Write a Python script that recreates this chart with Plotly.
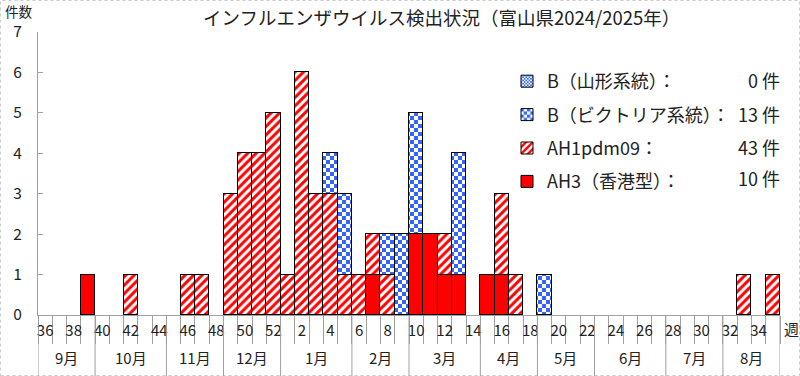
import plotly.graph_objects as go

# ---- data ----
weeks = [str(w) for w in list(range(36, 53)) + list(range(1, 36))]
# AH3 (香港型)
ah3 = [0, 0, 0, 1, 0, 0, 0, 0, 0, 0, 0, 0, 0, 0, 0, 0, 0,
       0, 0, 0, 0, 0, 0, 1, 0, 0, 2, 2, 1, 1, 0, 1, 1, 0, 0,
       0, 0, 0, 0, 0, 0, 0, 0, 0, 0, 0, 0, 0, 0, 0, 0, 0]
# AH1pdm09
ah1 = [0, 0, 0, 0, 0, 0, 1, 0, 0, 0, 1, 1, 0, 3, 4, 4, 5,
       1, 6, 3, 3, 1, 1, 1, 1, 0, 0, 0, 1, 0, 0, 0, 2, 1, 0,
       0, 0, 0, 0, 0, 0, 0, 0, 0, 0, 0, 0, 0, 0, 1, 0, 1, 1]
# B (Victoria)
bv = [0, 0, 0, 0, 0, 0, 0, 0, 0, 0, 0, 0, 0, 0, 0, 0, 0,
      0, 0, 0, 1, 2, 0, 0, 1, 2, 3, 0, 0, 3, 0, 0, 0, 0, 0,
      1, 0, 0, 0, 0, 0, 0, 0, 0, 0, 0, 0, 0, 0, 0, 0, 0]
# B (Yamagata)
by = [0] * 52

series_names = ["AH3（香港型）：", "AH1pdm09：", "B（ビクトリア系統）：", "B（山形系統）："]
series_totals = ["10 件", "43 件", "13 件", "0 件"]

months = ["9月", "10月", "11月", "12月", "1月", "2月", "3月", "4月", "5月", "6月", "7月", "8月"]
month_weeks = [4, 5, 4, 4, 5, 4, 5, 4, 4, 5, 4, 4]

tick_text = [w if i % 2 == 0 else "" for i, w in enumerate(weeks)]

FONT = "Noto Sans CJK JP"
GRAY = "#a0a0a0"
RED = "#ff0000"
BLUE = "#3366ff"

W, H = 800, 376
ML, MR, MT, MB = 38, 20, 32, 61
PW, PH = W - ML - MR, H - MT - MB


def nz(v):
    return [x if x else None for x in v]


def px_x(p):
    return (p - ML) / PW


def px_y(p):
    return 1 - (p - MT) / PH


fig = go.Figure()
fig.add_trace(go.Bar(x=weeks, y=nz(ah3), name=series_names[0], legendrank=4, legendgroup="g4",
                     marker=dict(color=RED, line=dict(color="black", width=1))))
fig.add_trace(go.Bar(x=weeks, y=nz(ah1), name=series_names[1], legendrank=3, legendgroup="g3",
                     marker=dict(color="white", line=dict(color="black", width=1),
                                 pattern=dict(shape="/", fgcolor=RED, bgcolor="white",
                                              size=6, solidity=0.5, fillmode="replace"))))
fig.add_trace(go.Bar(x=weeks, y=nz(bv), name=series_names[2], legendrank=2, legendgroup="g2",
                     marker=dict(color="white", line=dict(color="black", width=1),
                                 pattern=dict(path="M0,0H4V4H0ZM4,4H8V8H4Z", fgcolor=BLUE,
                                              bgcolor="white", size=8, fillmode="replace"))))
fig.add_trace(go.Bar(x=weeks, y=nz(by), name=series_names[3], legendrank=1, legendgroup="g1",
                     marker=dict(color="white", line=dict(color="black", width=1),
                                 pattern=dict(path="M0,0H2V2H0ZM2,2H4V4H2Z", fgcolor=BLUE,
                                              bgcolor="white", size=4, fillmode="replace"))))

shapes = []
# month separators
pos = -0.5
bounds = [pos]
for n in month_weeks:
    pos += n
    bounds.append(pos)
for b in bounds:
    shapes.append(dict(type="line", xref="x", yref="paper", x0=b, x1=b,
                       y0=0, y1=-MB / PH, line=dict(color=GRAY, width=1)))
# image border
shapes.append(dict(type="rect", xref="paper", yref="paper",
                   x0=px_x(0.5), x1=px_x(W - 0.5), y0=px_y(H - 0.5), y1=px_y(0.5),
                   line=dict(color="#cccccc", width=1, dash="dot"), layer="below"))

annotations = []
for i, m in enumerate(months):
    c = (bounds[i] + bounds[i + 1]) / 2
    annotations.append(dict(x=c, y=px_y(357), xref="x", yref="paper",
                            text=m, font=dict(size=15, color="#222")))
annotations.append(dict(x=px_x(441), y=px_y(17), xref="paper", yref="paper",
                        text="インフルエンザウイルス検出状況（富山県2024/2025年）",
                        font=dict(size=18.5, color="#222")))
annotations.append(dict(x=px_x(19), y=px_y(11), xref="paper", yref="paper", text="件数",
                        font=dict(size=13.5, color="#222")))
annotations.append(dict(x=px_x(791), y=px_y(328), xref="paper", yref="paper", text="週",
                        font=dict(size=15, color="#222")))
row_y = [178, 147, 114, 80]
for t, ry in zip(series_totals, row_y):
    annotations.append(dict(x=px_x(782), y=px_y(ry), xref="paper", yref="paper", text=t,
                            xanchor="right", font=dict(size=18, color="#222")))
for a in annotations:
    a.update(showarrow=False, yanchor="middle")
    a.setdefault("xanchor", "center")

fig.update_layout(
    width=W, height=H,
    margin=dict(l=ML, r=MR, t=MT, b=MB, autoexpand=False),
    barmode="stack", bargap=0,
    plot_bgcolor="white", paper_bgcolor="white",
    font=dict(family=FONT, color="#222"),
    showlegend=True,
    legend=dict(x=px_x(507), y=px_y(63), xanchor="left", yanchor="top",
                traceorder="grouped", tracegroupgap=7,
                font=dict(size=18, color="#222"), bgcolor="rgba(0,0,0,0)"),
    shapes=shapes, annotations=annotations,
)
fig.update_xaxes(type="category", categoryorder="array", categoryarray=weeks,
                 range=[-0.5, 51.5], tickvals=weeks, ticktext=tick_text,
                 tickson="boundaries", ticks="outside", ticklen=28, tickcolor=GRAY,
                 showline=True, linecolor=GRAY, showgrid=False, zeroline=False,
                 tickfont=dict(size=15, color="#222"), ticklabelstandoff=2,
                 tickangle=0, automargin=False)
fig.update_yaxes(range=[0, 7], tickvals=list(range(8)), ticks="inside", ticklen=5,
                 tickcolor=GRAY, showline=True, linecolor=GRAY, showgrid=False,
                 zeroline=False, tickfont=dict(size=15.5, color="#222"),
                 ticklabelstandoff=12, automargin=False)

fig.write_html("out.html", config={"displayModeBar": False},
               post_script="document.body.style.margin='0';document.body.style.padding='0';")
